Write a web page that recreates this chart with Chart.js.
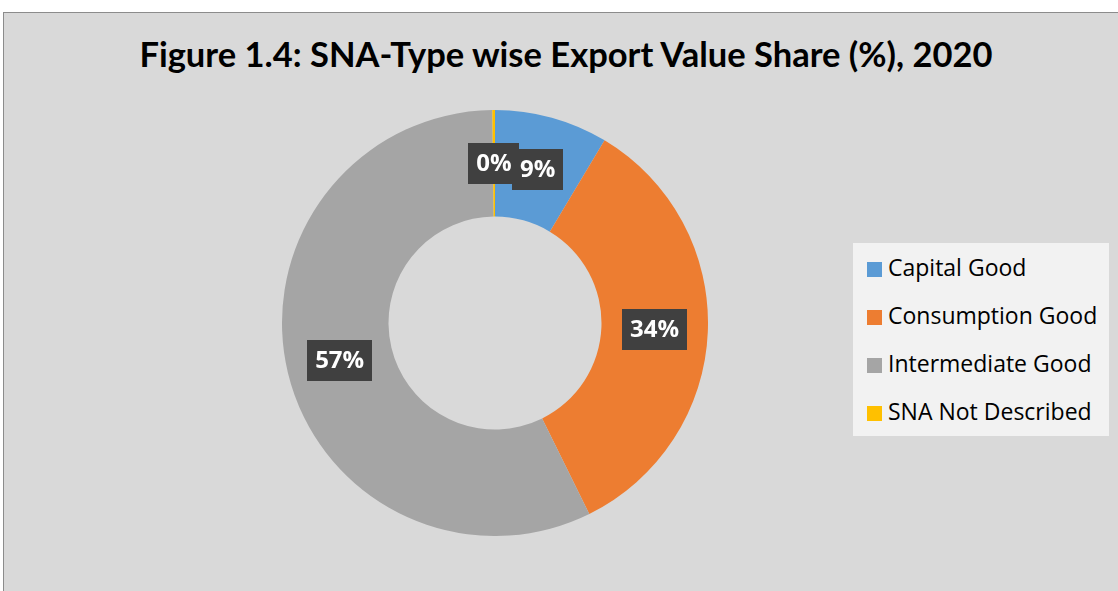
<!DOCTYPE html>
<html>
<head>
<meta charset="utf-8">
<script src="https://cdn.jsdelivr.net/npm/chart.js@4"></script>
<style>
  html, body { margin: 0; padding: 0; width: 1118px; height: 591px; background: #ffffff; overflow: hidden; font-family: Lato, "Open Sans", sans-serif; }
  #frame { position: absolute; left: 3px; top: 12px; width: 1120px; height: 590px; background: #d9d9d9; border-left: 1px solid #8c8c8c; border-top: 1px solid #8c8c8c; }
  #title { position: absolute; left: 0; top: 33px; width: 1132px; text-align: center; font-weight: bold; font-size: 34.5px; line-height: 42px; color: #000; white-space: nowrap; }
  #wrap { position: absolute; left: 282px; top: 110px; width: 426px; height: 426px; }
  #legend { position: absolute; left: 853px; top: 243px; width: 256px; height: 193px; background: #f2f2f2; }
  .item { position: absolute; left: 14px; height: 30px; font-family: "Open Sans", Lato, sans-serif; font-size: 23px; color: #000; white-space: nowrap; line-height: 30px; }
  .sw { display: inline-block; width: 15px; height: 15px; margin-right: 6px; vertical-align: -1px; }
</style>
</head>
<body>
<div id="frame"></div>
<div id="title">Figure 1.4: SNA-Type wise Export Value Share (%), 2020</div>
<div id="wrap"><canvas id="c"></canvas></div>
<div id="legend"></div>
<script>
const categories = ["Capital Good", "Consumption Good", "Intermediate Good", "SNA Not Described"];
const shares = [8.6, 34.1, 57.1, 0.2];
const colors = ["#5B9BD5", "#ED7D31", "#A5A5A5", "#FFC000"];

// HTML legend
const legend = document.getElementById('legend');
categories.forEach((name, i) => {
  const d = document.createElement('div');
  d.className = 'item';
  d.style.top = (9 + i * 48) + 'px';
  d.innerHTML = '<span class="sw" style="background:' + colors[i] + '"></span>' + name;
  legend.appendChild(d);
});

const labelBoxes = {
  id: 'labelBoxes',
  afterDatasetsDraw(chart) {
    const ctx = chart.ctx;
    const meta = chart.getDatasetMeta(0);
    ctx.save();
    ctx.font = 'bold 24px "Open Sans", Lato, sans-serif';
    ctx.textAlign = 'center';
    ctx.textBaseline = 'middle';
    meta.data.forEach((arc, i) => {
      const p = arc.tooltipPosition();
      const txt = Math.round(shares[i]) + '%';
      const w = ctx.measureText(txt).width + 16;
      const h = 41;
      ctx.fillStyle = '#404040';
      ctx.fillRect(Math.round(p.x - w / 2), Math.round(p.y - h / 2), Math.round(w), h);
      ctx.fillStyle = '#ffffff';
      ctx.fillText(txt, p.x, p.y + 1);
    });
    ctx.restore();
  }
};

new Chart(document.getElementById('c'), {
  type: 'doughnut',
  data: {
    labels: categories,
    datasets: [{
      data: shares,
      backgroundColor: colors,
      borderWidth: 0,
      hoverOffset: 0
    }]
  },
  options: {
    responsive: true,
    maintainAspectRatio: false,
    animation: false,
    cutout: '50%',
    layout: { padding: 0 },
    plugins: {
      legend: { display: false },
      tooltip: { enabled: false },
      title: { display: false }
    }
  },
  plugins: [labelBoxes]
});
</script>
</body>
</html>
